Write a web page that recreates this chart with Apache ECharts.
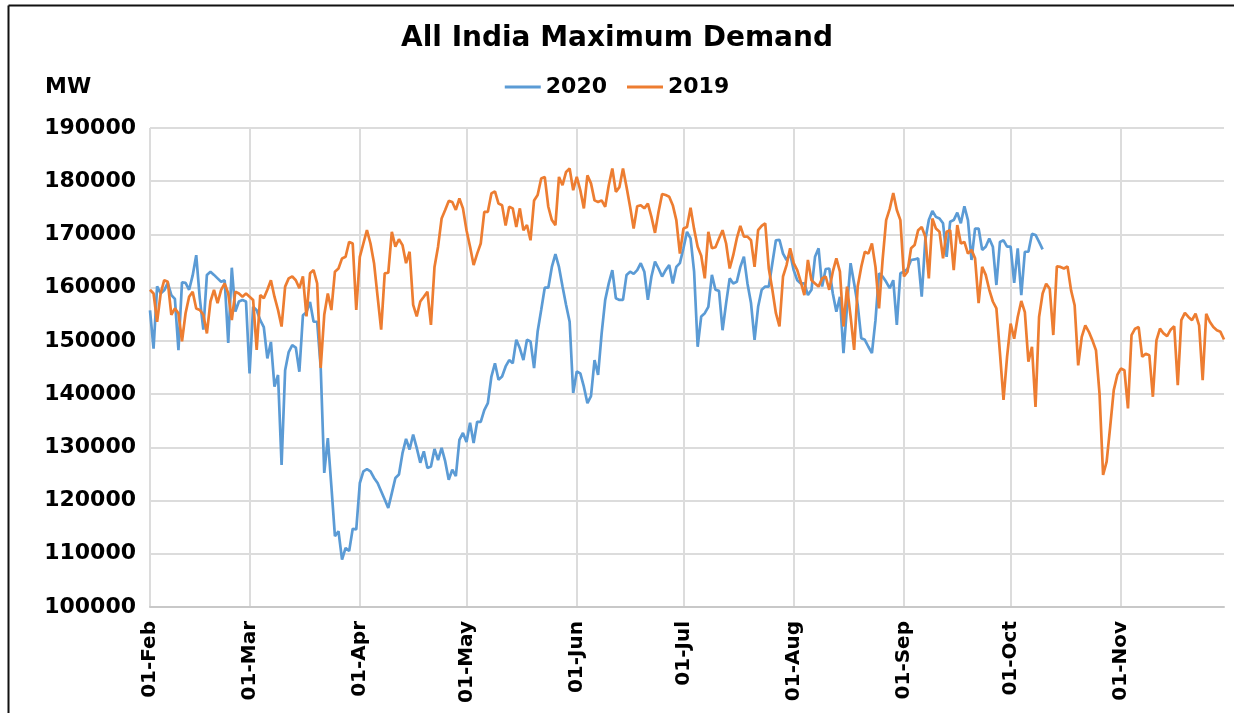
<!DOCTYPE html>
<html>
<head>
<meta charset="utf-8">
<script src="https://cdn.jsdelivr.net/npm/echarts@6/dist/echarts.min.js"></script>
<style>
html,body{margin:0;padding:0;background:#fff;}
#c{width:1234px;height:713px;}
</style>
</head>
<body>
<div id="c"></div>
<script>
// Axis categories (2019 calendar, daily from 01-Feb to 30-Nov)
const months = ['Feb','Mar','Apr','May','Jun','Jul','Aug','Sep','Oct','Nov'];
const monthDays = [28,31,30,31,30,31,31,30,31,30];
const yTicks = {min:100000, max:190000, step:10000};
const seriesNames = ['2020','2019'];

// 2020 daily maximum demand (MW), from 01-Feb
const demand2020 = [
155750,148560,160250,158900,159500,160900,158600,157900,148250,161000,
160900,159600,162300,166100,158000,152100,162400,163000,162400,161750,
161100,161400,149600,163750,155500,157400,157700,157400,143900,156400,
155750,153900,152600,146700,149800,141400,143600,126700,144500,147900,
149200,148750,144200,154800,155400,157300,153600,153600,145000,125200,
131750,122700,113300,114250,108900,111100,110500,114700,114600,123300,
125500,125900,125500,124250,123300,121750,120200,118600,121400,124250,
124900,128900,131600,129600,132400,129900,127100,129250,126100,126400,
129700,127600,129900,127400,123900,125800,124600,131400,132700,131000,
134600,130800,134800,134800,137000,138300,143300,145800,142700,143300,
145200,146400,145800,150200,148600,146400,150200,149900,144900,151750,
155800,160000,160000,163900,166300,163900,160200,156750,153600,140200,
144250,143900,141400,138300,139600,146400,143600,151400,157700,160800,
163300,158000,157700,157700,162400,163000,162600,163300,164600,163000,
157700,162100,164900,163600,162100,163300,164250,160800,163900,164600,
167400,170500,169250,163000,148900,154600,155200,156400,162400,159600,
159400,152000,157100,161750,160800,161100,163900,165800,160800,157100,
150200,156400,159600,160200,160200,164600,168900,169000,166400,165200,
166400,163300,161400,160800,160800,158600,159600,165800,167400,160200,
163500,163600,158900,155500,158300,147700,156400,164600,160800,156750,
150500,150200,148900,147700,153900,162700,162100,161100,159900,161400,
153000,162700,163000,163500,165200,165300,165500,158300,168900,172700,
174400,173300,173000,172100,165800,172400,172700,174100,172100,175300,
172700,165200,171100,171100,167100,167700,169250,167700,160500,168600,
168900,167700,167700,160900,167400,158600,166750,166750,170100,169900,
168600,167200
];

// 2019 daily maximum demand (MW), from 01-Feb
const demand2019 = [
159600,158900,153600,158900,161400,161100,154900,156100,155200,149900,
155200,158300,159250,156100,155800,154900,151400,157400,159600,157100,
159600,160800,158900,153900,159250,158900,158300,158900,158300,157700,
148300,158600,158000,159600,161400,158300,155800,152700,160200,161750,
162100,161400,159900,162100,154600,162700,163300,160800,144900,154900,
158900,155800,163000,163600,165500,165800,168600,168300,155800,165800,
168300,170800,168300,164600,158300,152100,162700,162800,170500,167700,
169100,168000,164600,166750,156750,154600,157400,158300,159250,153000,
163900,167700,173000,174600,176300,176100,174600,176750,174900,170800,
167700,164250,166400,168300,174250,174250,177700,178100,175800,175500,
171700,175200,174900,171400,174900,170800,171750,168900,176400,177400,
180500,180800,175200,172700,171750,180800,179250,181750,182400,178300,
180800,178300,174900,181100,179600,176400,176100,176400,175200,179250,
182400,178000,178900,182400,178900,175200,171100,175300,175500,174900,
175800,173300,170300,174250,177600,177400,177100,175500,172700,166400,
171100,171400,175000,171000,167700,166000,161750,170500,167400,167600,
169250,170800,168300,163600,166100,169250,171600,169600,169600,168900,
163900,170800,171600,172100,163600,159600,155200,152700,162100,164250,
167400,164600,163300,161100,158600,165200,161400,160800,160200,161750,
162100,159600,163000,165500,163000,152700,160200,154600,148300,160200,
163900,166750,166400,168300,163900,156100,165200,172700,174800,177800,
174600,172700,162100,163000,167400,168000,170800,171400,169600,161750,
173000,171100,170500,165500,170500,170800,163300,171750,168300,168600,
166400,167100,165500,157100,163900,162400,159600,157400,156100,147700,
138900,147000,153250,150400,154500,157500,155400,146100,148900,137600,
154500,158900,160750,159800,151100,164000,163900,163600,164000,159500,
156700,145400,150750,152900,151700,150100,148250,140100,124800,127300,
133900,140750,143600,144800,144500,137300,151100,152300,152600,147000,
147600,147300,139500,150100,152300,151400,150900,152100,152750,141700,
153900,155250,154500,153900,155100,152900,142600,155100,153600,152600,
152000,151700,150250
];

const dates = [];
months.forEach((m, i) => {
  for (let d = 1; d <= monthDays[i]; d++) {
    dates.push((d < 10 ? '0' + d : '' + d) + '-' + m);
  }
});
const isMonthStart = (idx, val) => typeof val === 'string' ? val.indexOf('01-') === 0 : dates[idx].indexOf('01-') === 0;

const FF = '"DejaVu Sans", sans-serif';
const chart = echarts.init(document.getElementById('c'), null, {renderer: 'canvas'});
chart.setOption({
  animation: false,
  backgroundColor: '#ffffff',
  title: {
    text: 'All India Maximum Demand',
    left: 'center', top: 20,
    textStyle: {fontFamily: FF, fontWeight: 'bold', fontSize: 28, color: '#000'}
  },
  legend: {
    data: seriesNames,
    top: 71, left: 'center',
    icon: 'rect', itemWidth: 36, itemHeight: 3, itemGap: 20,
    textStyle: {fontFamily: FF, fontWeight: 'bold', fontSize: 22, color: '#000'}
  },
  grid: {left: 150, right: 10, top: 128, bottom: 106, containLabel: false},
  xAxis: {
    type: 'category',
    data: dates,
    boundaryGap: false,
    axisLine: {lineStyle: {color: '#c8c8c8', width: 2}},
    axisTick: {show: false},
    axisLabel: {
      interval: isMonthStart, rotate: 90, margin: 14,
      fontFamily: FF, fontWeight: 'bold', fontSize: 20, color: '#000'
    },
    splitLine: {show: true, interval: isMonthStart, lineStyle: {color: '#dcdcdc', width: 2}}
  },
  yAxis: {
    type: 'value',
    min: yTicks.min, max: yTicks.max, interval: yTicks.step,
    axisLine: {show: false},
    axisTick: {show: false},
    axisLabel: {
      formatter: v => String(v), margin: 14,
      fontFamily: FF, fontWeight: 'bold', fontSize: 22, color: '#000'
    },
    splitLine: {lineStyle: {color: '#dcdcdc', width: 2}}
  },
  series: [
    {name: seriesNames[0], type: 'line', data: demand2020, showSymbol: false, symbol: 'none',
     lineStyle: {color: '#5B9BD5', width: 2.7}, itemStyle: {color: '#5B9BD5'}},
    {name: seriesNames[1], type: 'line', data: demand2019, showSymbol: false, symbol: 'none',
     lineStyle: {color: '#ED7D31', width: 2.7}, itemStyle: {color: '#ED7D31'}}
  ],
  graphic: [
    {type: 'text', left: 45, top: 76, style: {text: 'MW', fontFamily: FF, fontWeight: 'bold', fontSize: 22, fill: '#000'}},
    {type: 'line', shape: {x1: 8.5, y1: 5.5, x2: 1234, y2: 5.5}, style: {stroke: '#111', lineWidth: 2}},
    {type: 'line', shape: {x1: 8.5, y1: 5.5, x2: 8.5, y2: 713}, style: {stroke: '#111', lineWidth: 2}}
  ]
});
</script>
</body>
</html>
